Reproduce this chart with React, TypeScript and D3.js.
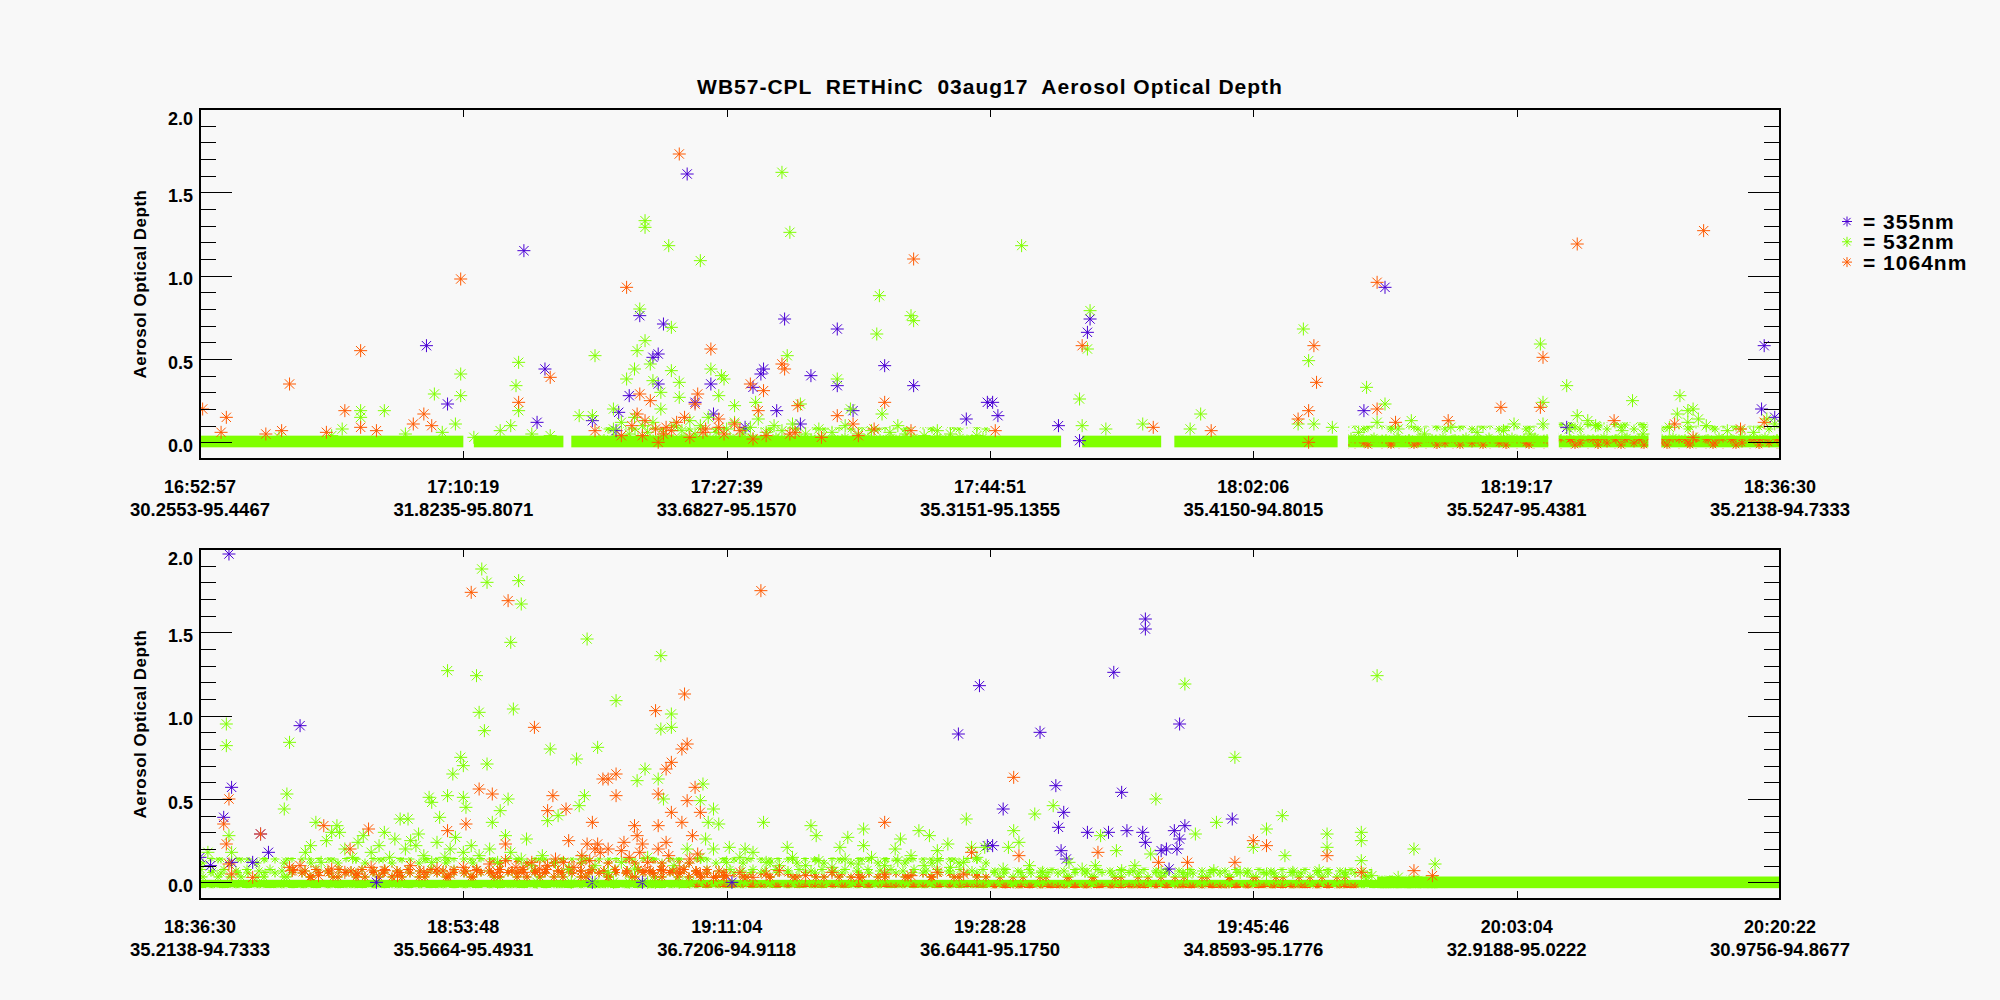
import React, { useEffect, useRef } from 'react';
import * as d3 from 'd3';

type Pt = [number, number];
// [startRecord, endRecord, lowAod, highAod]
type Band = [number, number, number, number];

const chartTitle = 'WB57-CPL  RETHinC  03aug17  Aerosol Optical Depth';
const yTitle = 'Aerosol Optical Depth';
const legendNames = ['= 355nm', '= 532nm', '= 1064nm'];

const topTimes = ['16:52:57', '17:10:19', '17:27:39', '17:44:51', '18:02:06', '18:19:17', '18:36:30'];
const topCoords = ['30.2553-95.4467', '31.8235-95.8071', '33.6827-95.1570', '35.3151-95.1355', '35.4150-94.8015', '35.5247-95.4381', '35.2138-94.7333'];
const bottomTimes = ['18:36:30', '18:53:48', '19:11:04', '19:28:28', '19:45:46', '20:03:04', '20:20:22'];
const bottomCoords = ['35.2138-94.7333', '35.5664-95.4931', '36.7206-94.9118', '36.6441-95.1750', '34.8593-95.1776', '32.9188-95.0222', '30.9756-94.8677'];

const yMajor = [0, 0.5, 1.0, 1.5, 2.0];

// ---------- top panel ----------
const top355: Pt[] = [
  [86, 0.58], [94, 0.23], [123, 1.15], [128, 0.12], [131, 0.44], [149, 0.13], [158, 0.07], [159, 0.18],
  [163, 0.28], [167, 0.76], [172, 0.51], [174, 0.53], [174, 0.35], [176, 0.71], [185, 1.61], [188, 0.24],
  [194, 0.35], [195, 0.17], [207, 0.09], [210, 0.33], [213, 0.41], [214, 0.44], [219, 0.19], [222, 0.74],
  [228, 0.11], [232, 0.40], [242, 0.34], [242, 0.68], [248, 0.19], [260, 0.46], [271, 0.34], [291, 0.14],
  [299, 0.24], [301, 0.24], [303, 0.16], [326, 0.10], [334, 0.01], [337, 0.66], [338, 0.74], [442, 0.19],
  [450, 0.93], [519, 0.09], [593, 0.2], [594, 0.58], [598, 0.15],
];

const top532: Pt[] = [
  [30, 0.03], [50, 0.04], [54, 0.08], [61, 0.19], [61, 0.15], [70, 0.19], [78, 0.05], [89, 0.29], [92, 0.06],
  [97, 0.11], [99, 0.41], [99, 0.28], [104, 0.03], [114, 0.07], [118, 0.10], [120, 0.34], [121, 0.48],
  [121, 0.19], [126, 0.05], [133, 0.04], [144, 0.16], [149, 0.16], [150, 0.52], [157, 0.2], [157, 0.08],
  [160, 0.12], [162, 0.38], [163, 0.05], [165, 0.44], [165, 0.15], [166, 0.55], [167, 0.80], [168, 0.1],
  [169, 0.61], [169, 1.33], [169, 1.29], [170, 0.06], [171, 0.47], [172, 0.37], [172, 0.12], [175, 0.30],
  [175, 0.2], [177, 0.04], [178, 1.18], [179, 0.69], [179, 0.43], [180, 0.1], [182, 0.36], [182, 0.27],
  [183, 0.07], [186, 0.13], [188, 0.05], [190, 1.09], [190, 0.1], [193, 0.15], [194, 0.44], [196, 0.06],
  [197, 0.28], [198, 0.40], [199, 0.38], [200, 0.08], [203, 0.22], [203, 0.12], [206, 0.05], [209, 0.09],
  [211, 0.24], [212, 0.14], [215, 0.06], [218, 0.1], [221, 1.62], [221, 0.07], [223, 0.52], [224, 1.26],
  [225, 0.11], [228, 0.23], [230, 0.05], [235, 0.08], [240, 0.06], [242, 0.38], [245, 0.1], [247, 0.2],
  [250, 0.05], [255, 0.07], [257, 0.65], [258, 0.88], [259, 0.17], [262, 0.06], [265, 0.10], [268, 0.05],
  [270, 0.76], [271, 0.73], [275, 0.04], [280, 0.07], [285, 0.05], [295, 0.04],
  [312, 1.18], [334, 0.26], [335, 0.10], [337, 0.56], [338, 0.79], [344, 0.08], [358, 0.11], [376, 0.08],
  [380, 0.17], [417, 0.11], [419, 0.68], [421, 0.49], [423, 0.11], [430, 0.09], [440, 0.06], [443, 0.33],
  [447, 0.12], [450, 0.23], [455, 0.08], [460, 0.13], [465, 0.05], [475, 0.09], [485, 0.06], [495, 0.07],
  [499, 0.11], [505, 0.05], [509, 0.59], [510, 0.24], [510, 0.11], [519, 0.34], [520, 0.08], [523, 0.16],
  [527, 0.13], [530, 0.1], [540, 0.07], [544, 0.25], [548, 0.05], [558, 0.09], [561, 0.17], [562, 0.28],
  [565, 0.19], [565, 0.12], [567, 0.2], [569, 0.14], [572, 0.1], [580, 0.07], [590, 0.06], [595, 0.14],
  [598, 0.11],
];

const top1064: Pt[] = [
  [1, 0.2], [8, 0.06], [10, 0.15], [25, 0.05], [31, 0.07], [34, 0.35], [48, 0.06], [55, 0.19], [61, 0.55],
  [61, 0.09], [67, 0.07], [81, 0.11], [85, 0.17], [88, 0.10], [99, 0.98], [121, 0.24], [133, 0.39],
  [150, 0.07], [160, 0.04], [162, 0.93], [164, 0.1], [166, 0.17], [167, 0.29], [168, 0.04], [169, 0.13],
  [171, 0.25], [173, 0.08], [174, 0.0], [176, 0.05], [177, 0.09], [179, 0.07], [181, 0.12], [182, 1.73],
  [184, 0.15], [186, 0.03], [188, 0.23], [189, 0.29], [191, 0.06], [192, 0.08], [194, 0.56], [197, 0.14],
  [197, 0.09], [199, 0.05], [203, 0.11], [205, 0.07], [209, 0.35], [210, 0.02], [212, 0.19], [214, 0.31],
  [215, 0.04], [221, 0.47], [222, 0.44], [224, 0.05], [226, 0.06], [227, 0.22], [236, 0.03], [242, 0.16],
  [248, 0.11], [250, 0.04], [256, 0.08], [260, 0.24], [270, 0.07], [271, 1.10],
  [302, 0.07], [335, 0.58], [362, 0.09], [384, 0.07], [417, 0.14], [421, 0.19], [421, 0.0], [423, 0.58],
  [424, 0.36], [447, 0.96], [447, 0.2], [454, 0.12], [474, 0.13], [494, 0.21], [509, 0.21], [510, 0.51],
  [523, 1.19], [537, 0.13], [560, 0.11], [567, 0.03], [571, 1.27], [585, 0.08], [594, 0.12],
];

const topBase532: Band[] = [
  [0, 100, -0.03, 0.04], [104, 138, -0.03, 0.04], [141, 327, -0.03, 0.04], [335, 365, -0.03, 0.04],
  [370, 432, -0.03, 0.04], [436, 512, -0.03, 0.04], [516, 550, -0.03, 0.04], [555, 600, -0.03, 0.04],
];
const topCloud532: Band[] = [
  [150, 300, 0.02, 0.09], [436, 512, 0.02, 0.1], [516, 550, 0.02, 0.12], [555, 600, 0.02, 0.1],
];
const topCloud1064: Band[] = [
  [436, 512, -0.04, 0.0], [516, 550, -0.04, 0.02], [555, 600, -0.04, 0.02],
];

// ---------- bottom panel ----------
const bottom355: Pt[] = [
  [0, 0.15], [4, 0.10], [9, 0.39], [11, 1.97], [12, 0.57], [12, 0.12], [20, 0.12], [23, 0.29], [26, 0.18],
  [38, 0.94], [67, 0.0], [149, 0.0], [168, 0.0], [202, 0.0], [288, 0.89], [296, 1.18], [299, 0.22],
  [301, 0.22], [305, 0.44], [319, 0.90], [325, 0.58], [326, 0.33], [327, 0.19], [328, 0.42], [329, 0.14],
  [337, 0.30], [345, 0.30], [347, 1.26], [350, 0.54], [352, 0.31], [358, 0.30], [359, 1.58], [359, 1.52],
  [359, 0.24], [365, 0.19], [367, 0.20], [368, 0.08], [370, 0.31], [371, 0.20], [372, 0.95], [372, 0.26],
  [374, 0.34], [392, 0.38],
];

const bottom532: Pt[] = [
  [3, 0.18], [10, 0.95], [10, 0.82], [11, 0.28], [12, 0.18], [32, 0.44], [33, 0.53], [34, 0.84], [40, 0.18],
  [42, 0.22], [44, 0.36], [46, 0.12], [48, 0.25], [50, 0.3], [52, 0.34], [53, 0.30], [55, 0.2], [58, 0.15],
  [60, 0.24], [62, 0.28], [65, 0.18], [68, 0.22], [70, 0.3], [72, 0.15], [74, 0.26], [76, 0.38], [78, 0.2],
  [79, 0.38], [80, 0.25], [82, 0.22], [83, 0.29], [85, 0.16], [87, 0.51], [88, 0.48], [88, 0.12],
  [90, 0.24], [91, 0.39], [93, 0.15], [94, 1.27], [94, 0.52], [95, 0.2], [96, 0.65], [97, 0.27],
  [99, 0.75], [100, 0.70], [100, 0.51], [100, 0.18], [101, 0.45], [103, 0.22], [105, 1.24], [106, 1.02],
  [106, 0.16], [107, 1.88], [108, 0.91], [109, 1.80], [109, 0.71], [110, 0.2], [111, 0.36], [113, 0.12],
  [113, 0.0], [114, 0.43], [116, 0.28], [117, 0.50], [118, 1.44], [118, 0.18], [119, 1.04], [121, 1.81],
  [122, 1.67], [122, 0.14], [124, 0.26], [126, 0.1], [128, 0.0], [130, 0.16], [132, 0.37], [133, 0.80],
  [135, 0.12], [136, 0.40], [140, 0.08], [141, 0.0], [143, 0.74], [144, 0.46], [145, 0.14], [146, 0.52],
  [147, 1.46], [150, 0.1], [150, 0.0], [151, 0.81], [155, 0.06], [157, 0.0], [158, 1.09], [160, 0.12],
  [163, 0.0], [165, 0.08], [166, 0.61], [169, 0.68], [170, 0.15], [170, 0.0], [173, 0.0], [174, 0.62],
  [175, 1.36], [175, 0.92], [176, 0.50], [179, 1.01], [179, 0.93], [180, 0.1], [182, 0.0], [185, 0.2],
  [186, 0.0], [190, 0.49], [190, 0.15], [191, 0.59], [192, 0.26], [193, 0.36], [195, 0.44], [195, 0.2],
  [197, 0.35], [200, 0.12], [201, 0.21], [205, 0.15], [207, 0.20], [210, 0.18], [214, 0.36], [215, 0.12],
  [220, 0.1], [223, 0.21], [225, 0.15], [230, 0.1], [232, 0.34], [234, 0.28], [235, 0.13], [240, 0.09],
  [243, 0.21], [245, 0.14], [246, 0.27], [250, 0.11], [252, 0.32], [252, 0.22], [255, 0.15], [260, 0.1],
  [264, 0.2], [265, 0.13], [266, 0.26], [270, 0.16], [273, 0.31], [275, 0.1], [277, 0.28], [280, 0.19],
  [280, 0.13], [284, 0.23], [285, 0.09], [290, 0.12], [291, 0.38], [293, 0.21], [295, 0.15], [298, 0.21],
  [305, 0.08], [307, 0.21], [309, 0.31], [311, 0.24], [315, 0.1], [317, 0.41], [320, 0.06], [324, 0.46],
  [330, 0.12], [335, 0.08], [340, 0.1], [342, 0.28], [348, 0.19], [350, 0.07], [355, 0.1], [361, 0.17],
  [363, 0.50], [365, 0.06], [374, 1.19], [375, 0.05], [378, 0.29], [385, 0.07], [386, 0.36], [393, 0.75],
  [395, 0.06], [400, 0.21], [405, 0.32], [405, 0.05], [411, 0.40], [412, 0.16], [415, 0.06], [425, 0.07],
  [428, 0.29], [428, 0.21], [435, 0.05], [441, 0.30], [441, 0.25], [441, 0.13], [445, 0.04], [447, 1.24],
  [455, 0.03], [461, 0.20], [469, 0.11],
];

const bottom1064: Pt[] = [
  [9, 0.35], [10, 0.23], [11, 0.50], [11, 0.11], [12, 0.05], [20, 0.03], [23, 0.29], [34, 0.09], [35, 0.07],
  [38, 0.1], [45, 0.04], [47, 0.34], [50, 0.08], [55, 0.06], [57, 0.2], [60, 0.05], [64, 0.32], [65, 0.09],
  [70, 0.07], [75, 0.04], [80, 0.1], [85, 0.06], [90, 0.08], [94, 0.31], [95, 0.05], [100, 0.09],
  [101, 0.35], [103, 1.74], [105, 0.07], [106, 0.56], [110, 0.11], [111, 0.53], [113, 0.06], [116, 0.23],
  [116, 0.13], [117, 1.69], [120, 0.09], [123, 0.06], [126, 0.12], [127, 0.93], [129, 0.08], [132, 0.43],
  [132, 0.1], [134, 0.52], [135, 0.14], [138, 0.12], [139, 0.44], [140, 0.25], [142, 0.09], [145, 0.16],
  [147, 0.23], [148, 0.13], [149, 0.36], [150, 0.2], [151, 0.23], [152, 0.18], [153, 0.62], [155, 0.62],
  [155, 0.2], [158, 0.65], [158, 0.52], [160, 0.19], [161, 0.24], [163, 0.15], [165, 0.34], [166, 0.28],
  [167, 0.18], [168, 0.23], [169, 0.07], [170, 0.12], [173, 1.03], [174, 0.53], [174, 0.34], [174, 0.2],
  [176, 0.07], [177, 0.24], [177, 0.68], [178, 0.16], [179, 0.72], [179, 0.42], [182, 0.08], [183, 0.80],
  [183, 0.36], [184, 1.13], [185, 0.83], [185, 0.49], [186, 0.14], [187, 0.28], [188, 0.57], [189, 0.17],
  [190, 0.42], [190, 0.05], [195, 0.03], [200, 0.04], [205, 0.06], [210, 0.03], [213, 1.75], [215, 0.05],
  [220, 0.07], [230, 0.04], [240, 0.06], [250, 0.03], [260, 0.36], [260, 0.05], [270, 0.04], [280, 0.06],
  [290, 0.05], [293, 0.18],
  [309, 0.63], [311, 0.16], [341, 0.18], [364, 0.12], [375, 0.12], [393, 0.12], [400, 0.25], [405, 0.22],
  [428, 0.16], [441, 0.06], [461, 0.07], [468, 0.04],
];

const bottomBase532: Band[] = [[0, 470, -0.03, 0.015], [447, 600, -0.035, 0.035]];
const bottomCloud532: Band[] = [
  [0, 470, -0.035, 0.04], [0, 300, 0.03, 0.15], [300, 445, 0.03, 0.09],
];
const bottomCloud1064: Band[] = [
  [35, 200, 0.01, 0.1], [110, 190, 0.05, 0.13], [185, 300, -0.03, 0.05], [300, 440, -0.035, 0.03],
];

const colors = { c355: '#4a00d4', c532: '#7fff00', c1064: '#ff5a00' };

const star = (r: number) => {
  const a = r * 0.72;
  return `M0,${-r}V${r}M${-r},0H${r}M${-a},${-a}L${a},${a}M${-a},${a}L${a},${-a}`;
};

export default function App() {
  const svgRef = useRef<SVGSVGElement>(null);

  useEffect(() => {
    if (!svgRef.current) return;
    const svg = d3.select(svgRef.current);
    svg.selectAll('*').remove();

    const W = 2000;
    const H = 1000;
    const left = 200;
    const right = 1780;
    const plotH = 350;
    const font = "'Liberation Sans', Arial, Helvetica, sans-serif";

    svg.attr('width', W).attr('height', H);
    svg.append('rect').attr('width', W).attr('height', H).attr('fill', '#f8f8f8');

    // asterisk textures for the dense clouds of records near the ground,
    // two tiles of different sizes laid over each other so the clutter isn't a grid
    const defs = svg.append('defs');
    const addPattern = (id: string, color: string, w: number, h: number, centres: number[][]) => {
      const p = defs.append('pattern')
        .attr('id', id)
        .attr('patternUnits', 'userSpaceOnUse')
        .attr('width', w)
        .attr('height', h);
      centres.forEach(([cx, cy, r]) => {
        p.append('path')
          .attr('d', star(r))
          .attr('transform', `translate(${cx},${cy})`)
          .attr('stroke', color)
          .attr('fill', 'none')
          .attr('stroke-width', 1);
      });
    };
    const tileA = [[5, 5, 4.5], [14, 9, 4.5], [22, 4.5, 4]];
    const tileB = [[6, 7, 5], [17, 5.5, 5], [11, 13, 4.5]];
    addPattern('cloud532a', colors.c532, 27, 14, tileA);
    addPattern('cloud532b', colors.c532, 23, 18, tileB);
    addPattern('cloud1064a', colors.c1064, 27, 14, tileA);
    addPattern('cloud1064b', colors.c1064, 23, 18, tileB);

    svg.append('text')
      .attr('x', (left + right) / 2)
      .attr('y', 94)
      .attr('text-anchor', 'middle')
      .attr('font-family', font)
      .attr('font-weight', 'bold')
      .attr('font-size', 21)
      .attr('letter-spacing', 1)
      .style('white-space', 'pre')
      .text(chartTitle);

    const panels = [
      {
        top: 109, times: topTimes, coords: topCoords,
        base: topBase532, cloud532: topCloud532, cloud1064: topCloud1064,
        p355: top355, p532: top532, p1064: top1064,
      },
      {
        top: 549, times: bottomTimes, coords: bottomCoords,
        base: bottomBase532, cloud532: bottomCloud532, cloud1064: bottomCloud1064,
        p355: bottom355, p532: bottom532, p1064: bottom1064,
      },
    ];

    const x = d3.scaleLinear().domain([0, 600]).range([left, right]);

    panels.forEach(panel => {
      const bottom = panel.top + plotH;
      const y = d3.scaleLinear().domain([-0.1, 2.0]).range([bottom, panel.top]);
      const g = svg.append('g');

      const clipId = `clip-${panel.top}`;
      defs.append('clipPath').attr('id', clipId)
        .append('rect')
        .attr('x', left).attr('y', panel.top)
        .attr('width', right - left).attr('height', plotH);

      const data = g.append('g').attr('clip-path', `url(#${clipId})`);

      const drawBands = (bands: Band[], fill: string) => {
        data.selectAll(null)
          .data(bands)
          .enter()
          .append('rect')
          .attr('x', d => x(d[0]))
          .attr('width', d => x(d[1]) - x(d[0]))
          .attr('y', d => y(d[3]))
          .attr('height', d => y(d[2]) - y(d[3]))
          .attr('fill', fill);
      };

      drawBands(panel.cloud532, 'url(#cloud532a)');
      drawBands(panel.cloud532, 'url(#cloud532b)');
      drawBands(panel.base, colors.c532);
      drawBands(panel.cloud1064, 'url(#cloud1064a)');
      drawBands(panel.cloud1064, 'url(#cloud1064b)');

      const drawPoints = (pts: Pt[], color: string) => {
        data.selectAll(null)
          .data(pts)
          .enter()
          .append('path')
          .attr('d', star(6.5))
          .attr('transform', d => `translate(${x(d[0])},${y(d[1])})`)
          .attr('stroke', color)
          .attr('stroke-width', 1)
          .attr('fill', 'none');
      };

      drawPoints(panel.p355, colors.c355);
      drawPoints(panel.p532, colors.c532);
      drawPoints(panel.p1064, colors.c1064);

      // frame
      g.append('rect')
        .attr('x', left).attr('y', panel.top)
        .attr('width', right - left).attr('height', plotH)
        .attr('fill', 'none').attr('stroke', '#000').attr('stroke-width', 1.5)
        .attr('shape-rendering', 'crispEdges');

      const minor = d3.range(-1, 20).map(i => i / 10).filter(v => !yMajor.some(m => Math.abs(m - v) < 1e-6));
      const yAxes: [number, d3.Axis<d3.NumberValue>, d3.Axis<d3.NumberValue>][] = [
        [left, d3.axisRight(y).tickValues(yMajor.filter(v => v < 2)).tickSize(32), d3.axisRight(y).tickValues(minor).tickSize(16)],
        [right, d3.axisLeft(y).tickValues(yMajor.filter(v => v < 2)).tickSize(32), d3.axisLeft(y).tickValues(minor).tickSize(16)],
      ];
      yAxes.forEach(([xPos, major, min]) => {
        [major, min].forEach(ax => {
          const a = g.append('g')
            .attr('transform', `translate(${xPos},0)`)
            .call(ax.tickFormat(() => ''));
          a.select('.domain').remove();
          a.selectAll('line').attr('stroke', '#000').attr('shape-rendering', 'crispEdges');
        });
      });

      const xTickVals = d3.range(1, 6).map(i => i * 100);
      const topAx = g.append('g').attr('transform', `translate(0,${panel.top})`)
        .call(d3.axisBottom(x).tickValues(xTickVals).tickSize(8).tickFormat(() => ''));
      const botAx = g.append('g').attr('transform', `translate(0,${bottom})`)
        .call(d3.axisTop(x).tickValues(xTickVals).tickSize(8).tickFormat(() => ''));
      [topAx, botAx].forEach(a => {
        a.select('.domain').remove();
        a.selectAll('line').attr('stroke', '#000').attr('shape-rendering', 'crispEdges');
      });

      // y labels
      g.selectAll(null)
        .data(yMajor)
        .enter()
        .append('text')
        .attr('x', 193)
        .attr('y', d => y(d) + (d >= 2 ? 16 : 9.5))
        .attr('text-anchor', 'end')
        .attr('font-family', font)
        .attr('font-weight', 'bold')
        .attr('font-size', 18)
        .text(d => d.toFixed(1));

      // x labels: time and lat-lon
      const labelIdx = d3.range(0, 7).map(i => i * 100);
      g.selectAll(null)
        .data(labelIdx)
        .enter()
        .append('text')
        .attr('x', d => x(d))
        .attr('y', bottom + 34)
        .attr('text-anchor', 'middle')
        .attr('font-family', font)
        .attr('font-weight', 'bold')
        .attr('font-size', 18)
        .text((d, i) => panel.times[i]);
      g.selectAll(null)
        .data(labelIdx)
        .enter()
        .append('text')
        .attr('x', d => x(d))
        .attr('y', bottom + 57)
        .attr('text-anchor', 'middle')
        .attr('font-family', font)
        .attr('font-weight', 'bold')
        .attr('font-size', 18.5)
        .text((d, i) => panel.coords[i]);

      g.append('text')
        .attr('transform', `translate(146,${panel.top + plotH / 2}) rotate(-90)`)
        .attr('text-anchor', 'middle')
        .attr('font-family', font)
        .attr('font-weight', 'bold')
        .attr('font-size', 17)
        .attr('letter-spacing', 0.5)
        .text(yTitle);
    });

    // legend
    const legendColors = [colors.c355, colors.c532, colors.c1064];
    const lg = svg.append('g');
    legendNames.forEach((name, i) => {
      const base = 229 + i * 20.3;
      lg.append('path')
        .attr('d', star(5))
        .attr('transform', `translate(1847,${base - 7.5})`)
        .attr('stroke', legendColors[i])
        .attr('fill', 'none');
      lg.append('text')
        .attr('x', 1863)
        .attr('y', base)
        .attr('font-family', font)
        .attr('font-weight', 'bold')
        .attr('font-size', 21)
        .attr('letter-spacing', 1)
        .text(name);
    });
  }, []);

  return (
    <svg
      ref={svgRef}
      style={{ position: 'absolute', left: 0, top: 0, display: 'block' }}
      role="img"
      aria-label="WB57-CPL aerosol optical depth at 355, 532 and 1064 nm along the flight track"
    ></svg>
  );
}
